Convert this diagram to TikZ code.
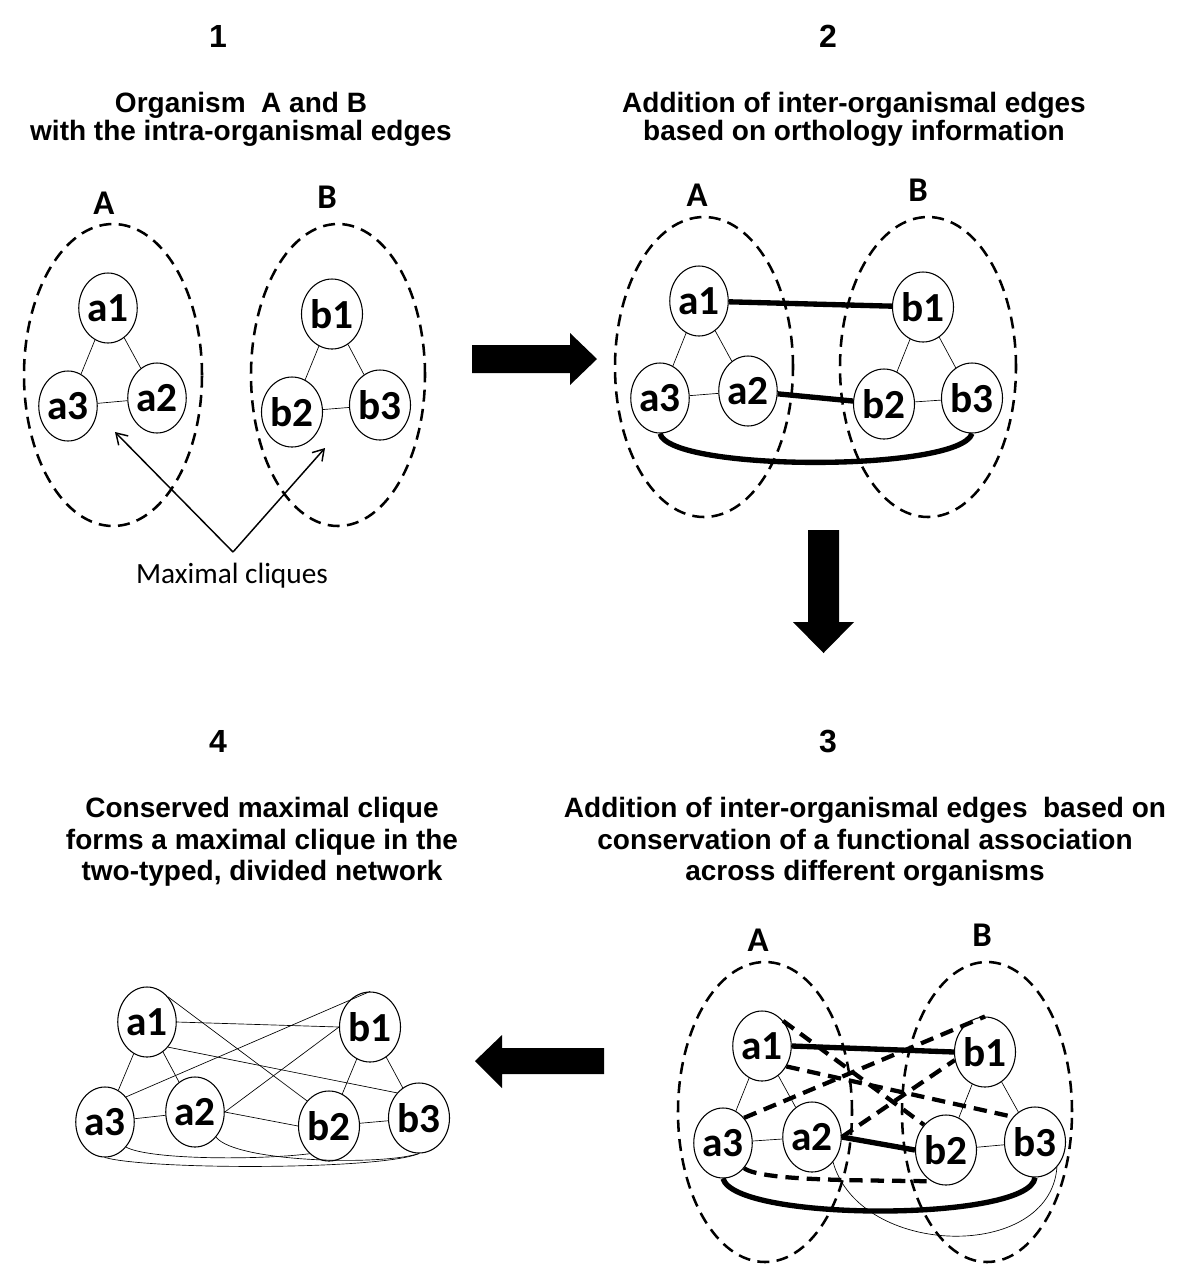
\documentclass[tikz,border=0pt]{standalone}
\usepackage{fontspec}
\setmainfont{Liberation Sans}
\newfontfamily\carl{Carlito}
\usetikzlibrary{shapes.geometric,arrows.meta}
\begin{document}
\begin{tikzpicture}[x=0.75pt,y=-0.75pt,
 nd/.style={ellipse,draw,line width=0.8pt,fill=white,minimum width=42pt,minimum height=52.5pt,inner sep=0pt,font=\carl\bfseries\fontsize{31}{31}\selectfont},
 grp/.style={ellipse,draw,line width=1.9pt,dash pattern=on 9pt off 5.5pt,inner sep=0pt},
 thinedge/.style={line width=0.5pt},
 thickedge/.style={line width=4pt},
 dshedge/.style={line width=3.2pt,dash pattern=on 10pt off 6pt},
 lab/.style={font=\carl\bfseries\fontsize{26}{26}\selectfont},
 num/.style={font=\bfseries\fontsize{24}{24}\selectfont},
 ttl/.style={align=center,font=\bfseries\fontsize{21}{21}\selectfont},
 ttlb/.style={align=center,font=\bfseries\fontsize{21}{23.6}\selectfont}]
\useasboundingbox (0,0) rectangle (1200,1265);

% ---------- Panel 1 ----------
\node[num] (n1) at (218,36) {1};
\node[ttl] (t1) at (241,119) {Organism\ \ A and B\\with the intra-organismal edges};
\node[grp,minimum width=133.5pt,minimum height=226.5pt] (EA1) at (113,375) {};
\node[grp,minimum width=130.5pt,minimum height=226.5pt] (EB1) at (338,375) {};
\node[lab] (LA1) at (104,203) {A};
\node[lab] (LB1) at (327,197) {B};
\node[nd] (pa1) at (108,308) {a1};
\node[nd] (pa3) at (68,406) {a3};
\node[nd] (pa2) at (157,398) {a2};
\node[nd] (pb1) at (332,314) {b1};
\node[nd] (pb2) at (292,412) {b2};
\node[nd] (pb3) at (380,405) {b3};
\draw[thinedge] (pa1) -- (pa3) (pa1) -- (pa2) (pa3) -- (pa2);
\draw[thinedge] (pb1) -- (pb2) (pb1) -- (pb3) (pb2) -- (pb3);
\coordinate (mc) at (233,552);
\coordinate (mcA) at (115,432);
\coordinate (mcB) at (325,448);
\draw[line width=1.1pt,-{Straight Barb[length=8pt,width=10pt]}] (mc) -- (mcA);
\draw[line width=1.1pt,-{Straight Barb[length=8pt,width=10pt]}] (mc) -- (mcB);
\node[font=\carl\fontsize{22}{22}\selectfont] (mcl) at (232,576) {Maximal cliques};

% arrow 1 -> 2
\fill (472,345) -- (570,345) -- (570,333) -- (597,359) -- (570,385) -- (570,373) -- (472,373) -- cycle;

% ---------- Panel 2 ----------
\node[num] (n2) at (828,36) {2};
\node[ttl] (t2) at (854,119) {Addition of inter-organismal edges\\based on orthology information};
\node[grp,minimum width=133.5pt,minimum height=225pt] (EA2) at (704,367) {};
\node[grp,minimum width=132pt,minimum height=225pt] (EB2) at (928,367) {};
\node[lab] (LA2) at (697,195) {A};
\node[lab] (LB2) at (918,190) {B};
\node[nd] (qa1) at (699,301) {a1};
\node[nd] (qa3) at (660,398) {a3};
\node[nd] (qa2) at (748,391) {a2};
\node[nd] (qb1) at (923,307) {b1};
\node[nd] (qb2) at (884,404) {b2};
\node[nd] (qb3) at (972,398) {b3};
\draw[thinedge] (qa1) -- (qa3) (qa1) -- (qa2) (qa3) -- (qa2);
\draw[thinedge] (qb1) -- (qb2) (qb1) -- (qb3) (qb2) -- (qb3);
\draw[thickedge] (qa1) -- (qb1);
\draw[thickedge] (qa2) -- (qb2);
\draw[thickedge] (qa3.south) .. controls (670,472) and (960,472) .. (qb3.south);

% arrow 2 -> 3
\fill (808,530) -- (839,530) -- (839,622) -- (854,622) -- (823.5,653) -- (793,622) -- (808,622) -- cycle;

% ---------- Panel 3 ----------
\node[num] (n3) at (828,741) {3};
\node[ttlb] (t3) at (865,842) {Addition of inter-organismal edges\ \ based on\\conservation of a functional association\\across different organisms};
\node[grp,minimum width=130.5pt,minimum height=225pt] (EA3) at (765,1112) {};
\node[grp,minimum width=127.5pt,minimum height=225pt] (EB3) at (987,1112) {};
\node[lab] (LA3) at (758,940) {A};
\node[lab] (LB3) at (982,935) {B};
\node[nd] (ra1) at (762,1046) {a1};
\node[nd] (ra3) at (723,1143) {a3};
\node[nd] (ra2) at (812,1137) {a2};
\node[nd] (rb1) at (985,1052) {b1};
\node[nd] (rb2) at (946,1150) {b2};
\node[nd] (rb3) at (1035,1142) {b3};
\draw[thinedge] (ra1) -- (ra3) (ra1) -- (ra2) (ra3) -- (ra2);
\draw[thinedge] (rb1) -- (rb2) (rb1) -- (rb3) (rb2) -- (rb3);
\draw[thinedge] (ra2.south east) .. controls (860,1258) and (1050,1262) .. (rb3.south east);
\draw[thickedge] (ra1.east) -- (rb1.west);
\draw[thickedge] (ra2.east) -- (rb2.west);
\draw[thickedge] (ra3.south) .. controls (735,1222) and (1030,1222) .. (rb3.south);
\draw[dshedge] (ra1.north east) -- (rb2.north west);
\draw[dshedge] (ra1.-40) -- (rb3.north west);
\draw[dshedge] (ra3.north east) -- (rb1.north);
\draw[dshedge] (ra2.east) -- (rb1.195);
\draw[dshedge] (ra3.south east) .. controls (762,1182) and (880,1180) .. (rb2.245);

% arrow 3 -> 4
\fill (604,1048) -- (502,1048) -- (502,1035) -- (475,1061) -- (502,1088) -- (502,1074) -- (604,1074) -- cycle;

% ---------- Panel 4 ----------
\node[num] (n4) at (218,741) {4};
\node[ttlb] (t4) at (262,842) {Conserved maximal clique\\forms a maximal clique in the\\two-typed, divided network};
\node[nd] (sa1) at (147,1022) {a1};
\node[nd] (sa3) at (105,1122) {a3};
\node[nd] (sa2) at (195,1112) {a2};
\node[nd] (sb1) at (370,1027) {b1};
\node[nd] (sb2) at (329,1126) {b2};
\node[nd] (sb3) at (419,1118) {b3};
\draw[thinedge] (sa1) -- (sa3) (sa1) -- (sa2) (sa3) -- (sa2);
\draw[thinedge] (sb1) -- (sb2) (sb1) -- (sb3) (sb2) -- (sb3);
\draw[thinedge] (sa1.east) -- (sb1.west);
\draw[thinedge] (sa1.north east) -- (sb2.north west);
\draw[thinedge] (sa1.south east) -- (sb3.north west);
\draw[thinedge] (sa3.north east) -- (sb1.north);
\draw[thinedge] (sa2.east) -- (sb1.west);
\draw[thinedge] (sa2.east) -- (sb2.west);
\draw[thinedge] (sa3.south east) .. controls (150,1160) and (260,1160) .. (sb2.235);
\draw[thinedge] (sa3.south) .. controls (150,1170) and (380,1170) .. (sb3.south);
\draw[thinedge] (sa2.-50) .. controls (235,1162) and (380,1166) .. (sb3.south);
\end{tikzpicture}
\end{document}
